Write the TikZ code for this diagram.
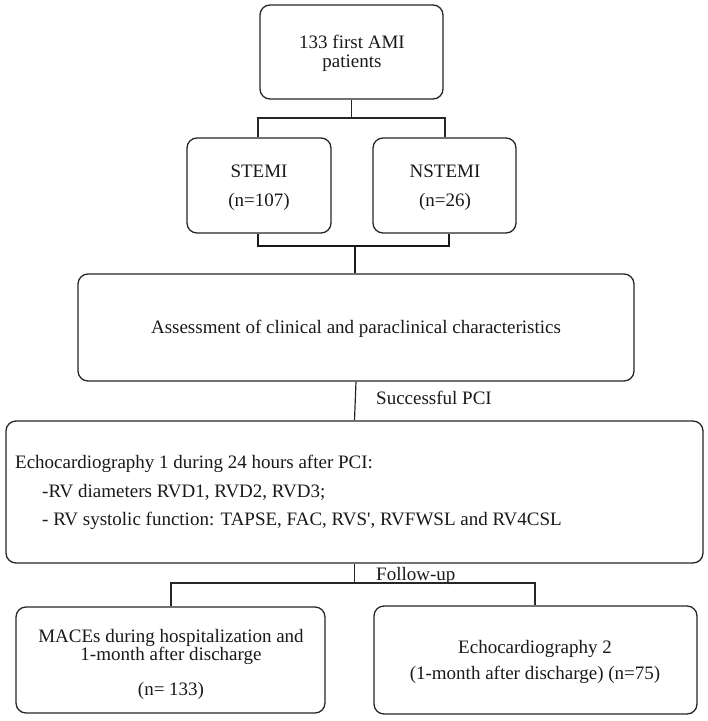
\documentclass[tikz,border=0pt]{standalone}
\usepackage{fontspec}
\setmainfont{Liberation Serif}
\newcommand{\straightquote}{{\addfontfeatures{Ligatures=TeXOff}'}}
\begin{document}
\begin{tikzpicture}[x=1pt,y=-1pt,
  box/.style={draw=black!85,line width=1.3pt,rounded corners=10pt,inner sep=0pt},
  conn/.style={draw=black!85,line width=1.2pt},
  thickconn/.style={draw=black!90,line width=2.8pt},
  txt/.style={inner sep=0pt,anchor=base,font=\fontsize{19}{20}\selectfont,text=black!90},
  ltxt/.style={txt,anchor=base west}]
\useasboundingbox (0,0) rectangle (708,721);
% boxes
\node[box,minimum width=183pt,minimum height=94pt] (top) at (351.5,52) {};
\node[box,minimum width=144pt,minimum height=95pt] (stemi) at (259,185.5) {};
\node[box,minimum width=143pt,minimum height=95pt] (nstemi) at (444.5,185.5) {};
\node[box,minimum width=556pt,minimum height=107pt] (assess) at (356,327.5) {};
\node[box,minimum width=697pt,minimum height=142pt] (echo1) at (354.5,492) {};
\node[box,minimum width=309pt,minimum height=106pt] (maces) at (170.5,660) {};
\node[box,minimum width=323pt,minimum height=108pt] (echo2) at (535.5,660) {};
% texts
\node[txt] (t1) at (352,48) {133 first AMI};
\node[txt] (t2) at (352,67) {patients};
\node[txt] (s1) at (259,177) {STEMI};
\node[txt] (s2) at (259,206) {(n=107)};
\node[txt] (n1) at (445,177) {NSTEMI};
\node[txt] (n2) at (445,206) {(n=26)};
\node[txt] (a1) at (356,333) {Assessment of clinical and paraclinical characteristics};
\node[ltxt] (e1) at (15,468) {Echocardiography 1 during 24 hours after PCI:};
\node[ltxt] (e2) at (42,497) {-RV diameters RVD1, RVD2, RVD3;};
\node[ltxt] (e3) at (42,525) {- RV systolic function: TAPSE, FAC, RVS\straightquote, RVFWSL and RV4CSL};
\node[txt] (m1) at (171,642) {MACEs during hospitalization and};
\node[txt] (m2) at (171,660) {1-month after discharge};
\node[txt] (m3) at (171,695) {(n= 133)};
\node[txt] (f1) at (535,653) {Echocardiography 2};
\node[txt] (f2) at (535,679) {(1-month after discharge) (n=75)};
\node[ltxt] (lpci) at (376,404) {Successful PCI};
\node[ltxt] (lfu) at (376,580) {Follow-up};
% junction coordinates
\coordinate (jaL) at (258,118);
\coordinate (jaR) at (445,118);
\coordinate (jbL) at (258,246);
\coordinate (jbR) at (449,246);
\coordinate (jbC) at (355,246);
\coordinate (jcL) at (171,583);
\coordinate (jcR) at (535,583);
% connectors
\draw[conn] (top.south) -- (top.south |- jaL);
\draw[conn] (jaL |- stemi.north) -- (jaL) -- (jaR) -- (jaR |- nstemi.north);
\draw[thickconn] (jbL |- stemi.south) -- (jbL) -- (jbR) -- (jbR |- nstemi.south);
\draw[thickconn] (jbC) -- (jbC |- assess.north);
\draw[conn] (assess.south) -- (echo1.north);
\draw[conn] (echo1.south) -- (echo1.south |- jcL);
\draw[conn] (jcL |- maces.north) -- (jcL) -- (jcR) -- (jcR |- echo2.north);
\end{tikzpicture}
\end{document}
